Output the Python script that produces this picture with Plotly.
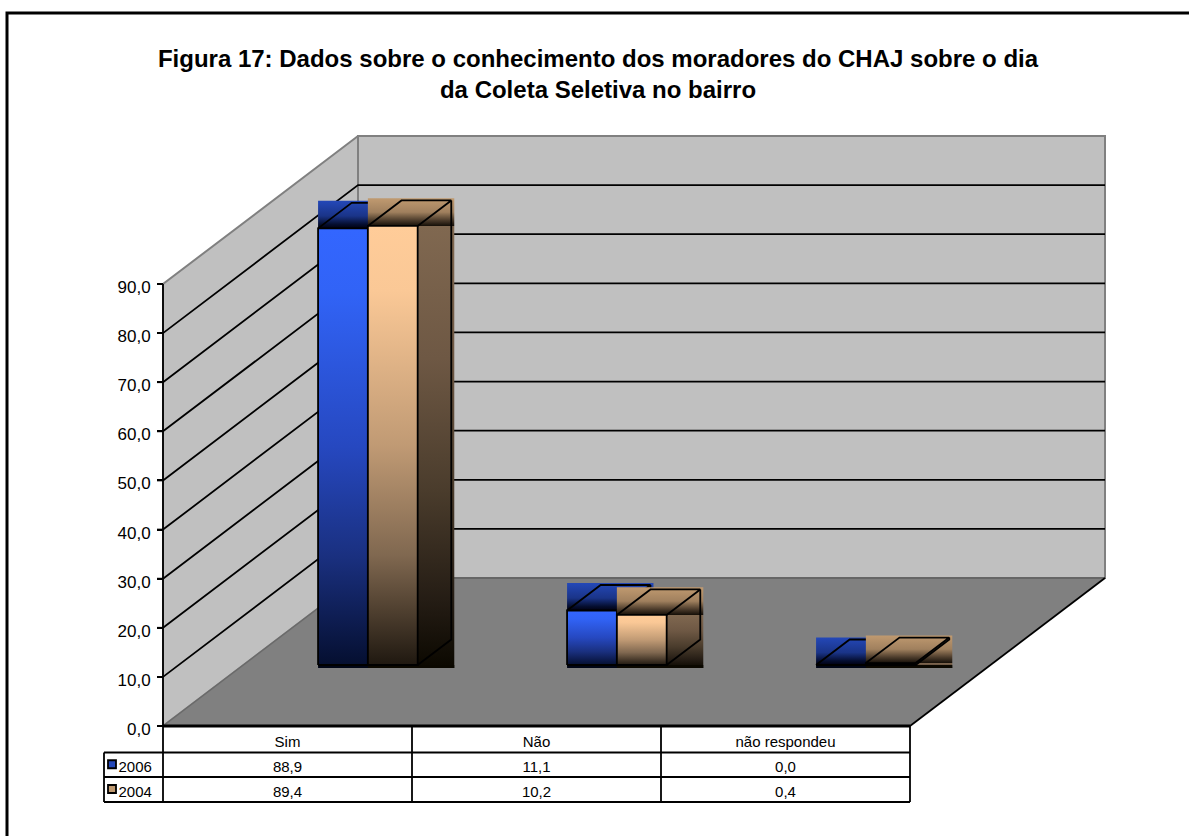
import plotly.graph_objects as go

# ---------- data ----------
categories = ["Sim", "Não", "não respondeu"]
series_names = ["2006", "2004"]
values_2006 = [88.9, 11.1, 0.0]
values_2004 = [89.4, 10.2, 0.4]
y_ticks = [0, 10, 20, 30, 40, 50, 60, 70, 80, 90]
title_text = ("<b>Figura 17: Dados sobre o conhecimento dos moradores do CHAJ sobre o dia"
              "<br>da Coleta Seletiva no bairro</b>")

# ---------- oblique projection set-up ----------
W, H = 1189, 836
PX_X0, PX_Y0 = 163, 726      # pixel of category 0 / value 0 on the front plane
PX_PER_CAT = 249.0
PX_PER_VAL = 442.0 / 90.0
DEPTH_PX_X, DEPTH_PX_Y = 195.0, 148.0
DX = DEPTH_PX_X / PX_PER_CAT
DY = DEPTH_PX_Y / PX_PER_VAL
NC = len(categories)
VMAX = y_ticks[-1]
LW = 1.8

def P(c, v, d=0.0):
    """category, value, depth -> axis coordinates"""
    return c + DX * d, v + DY * d

def xpx(p):
    return (p - PX_X0) / PX_PER_CAT

def ypx(p):
    return (PX_Y0 - p) / PX_PER_VAL

fig = go.Figure()

def poly(points, fill=None, line=None, lw=LW, grad=None):
    pts = list(points)
    closed = fill is not None or grad is not None
    xs = [p[0] for p in pts] + ([pts[0][0]] if closed else [])
    ys = [p[1] for p in pts] + ([pts[0][1]] if closed else [])
    kw = dict(x=xs, y=ys, mode="lines", hoverinfo="skip", showlegend=False,
              line=dict(color=line or "rgba(0,0,0,0)", width=lw if line else 0))
    if fill:
        kw.update(fill="toself", fillcolor=fill)
    if grad:
        stops, y_top, y_bottom = grad
        kw.update(fill="toself", fillgradient=dict(
            type="vertical", start=y_bottom, stop=y_top,
            colorscale=[[1 - f, c] for f, c in reversed(stops)]))
    fig.add_trace(go.Scatter(**kw))

# ---------- walls and floor ----------
WALL = "#c0c0c0"
FLOOR = "#808080"
EDGE = "#808080"
poly([P(0, 0), P(0, 0, 1), P(0, VMAX, 1), P(0, VMAX)], fill=WALL, line=EDGE, lw=2)
poly([P(0, 0, 1), P(NC, 0, 1), P(NC, VMAX, 1), P(0, VMAX, 1)], fill=WALL, line=EDGE, lw=2)
poly([P(0, 0), P(0, 0, 1), P(NC, 0, 1), P(NC, 0)], fill=FLOOR, line=None)
poly([P(0, 0), P(0, 0, 1)], line="#6a6a6a", lw=1.5)
poly([P(0, 0, 1), P(NC, 0, 1)], line="#666666", lw=2)
poly([P(NC, 0), P(NC, 0, 1)], line="#000000", lw=LW)
for t in y_ticks[1:-1]:
    poly([P(0, t), P(0, t, 1), P(NC, t, 1)], line="#000000", lw=LW)

# ---------- bars ----------
D0 = 61.0 / DEPTH_PX_Y
D1 = 86.5 / DEPTH_PX_Y
BAR_START = 0.30
BAR_W = 0.20
OVER_X = xpx(PX_X0 + 3)      # gradient boxes overhang the outline
OVER_Y = 3 / PX_PER_VAL

STYLE = {
    "2006": dict(
        front=[(0, "#3366ff"), (0.15, "#3163f6"), (0.5, "#2648c0"), (0.75, "#1a3080"), (1, "#050f30")],
        side=[(0, "#2448b8"), (0.5, "#122468"), (1, "#000515")],
        top=[(0, "#2448b8"), (0.55, "#1a3488"), (0.85, "#050e30"), (1, "#000010")],
    ),
    "2004": dict(
        front=[(0, "#ffcc99"), (0.15, "#fac896"), (0.5, "#c09a74"), (0.75, "#806850"), (1, "#1f1810")],
        side=[(0, "#806850"), (0.3, "#6e5844"), (0.6, "#4a3c2c"), (0.85, "#241c14"), (1, "#0b0800")],
        top=[(0, "#c09a70"), (0.5, "#a0805e"), (0.8, "#4a3a2a"), (1, "#150f08")],
    ),
}

def bar(cat_i, ser_i, value, style):
    c0 = cat_i + BAR_START + ser_i * BAR_W
    c1 = c0 + BAR_W
    x_fl, y_fl = P(c0, 0, D0)
    x_fr, y_ft = P(c1, value, D0)
    x_bl, y_bt = P(c0, value, D1)
    x_br = P(c1, value, D1)[0] + OVER_X
    y_b3 = y_fl - OVER_Y
    y_bt3 = y_bt + OVER_Y * 0.7
    # gradient boxes
    poly([(x_fr, y_ft), (x_br, y_ft), (x_br, y_b3), (x_fr, y_b3)],
         grad=(style["side"], y_ft, y_b3))
    poly([(x_fl, y_fl), (x_br, y_fl), (x_br, y_b3), (x_fl, y_b3)],
         fill=style["side"][-1][1])
    poly([(x_fl, y_ft), (x_br, y_ft), (x_br, y_bt3), (x_fl, y_bt3)],
         grad=(style["top"], y_bt3, y_ft))
    if value > 0:
        poly([(x_fl, y_fl), (x_fr, y_fl), (x_fr, y_ft), (x_fl, y_ft)],
             grad=(style["front"], y_ft, y_fl))
    # outlines
    poly([P(c0, 0, D0), P(c1, 0, D0), P(c1, value, D0), P(c0, value, D0), P(c0, 0, D0)],
         line="#000000")
    poly([P(c0, value, D0), P(c0, value, D1), P(c1, value, D1), P(c1, value, D0)],
         line="#000000")
    poly([P(c1, value, D1), P(c1, 0, D1), P(c1, 0, D0)], line="#000000")

for i in range(NC):
    bar(i, 0, values_2006[i], STYLE["2006"])
    bar(i, 1, values_2004[i], STYLE["2004"])

# ---------- data table under the plot ----------
ROW_PX = [726, 752.5, 777, 802]
TABLE_LEFT = xpx(104)
poly([(0, ypx(ROW_PX[0])), (NC, ypx(ROW_PX[0]))], line="#000000", lw=3)
for r in ROW_PX[1:]:
    poly([(TABLE_LEFT, ypx(r)), (NC, ypx(r))], line="#000000")
poly([(TABLE_LEFT, ypx(ROW_PX[1])), (TABLE_LEFT, ypx(ROW_PX[3]))], line="#000000")
for c in range(NC + 1):
    poly([(c, ypx(ROW_PX[0])), (c, ypx(ROW_PX[3]))], line="#000000")
poly([(0, 0), (0, VMAX)], line="#000000")
for t in y_ticks:
    poly([(xpx(PX_X0 - 6), t), (0, t)], line="#000000")

TFONT = dict(family="Liberation Sans, Arial, sans-serif", size=15, color="#000000")
row_mid = [ypx((ROW_PX[k] + ROW_PX[k + 1]) / 2 + 3.5) for k in range(3)]
fig.add_trace(go.Scatter(
    x=[c + 0.5 for c in range(NC)], y=[row_mid[0]] * NC, text=categories,
    mode="text", textfont=TFONT, textposition="middle center",
    hoverinfo="skip", showlegend=False))
for k, vals in enumerate([values_2006, values_2004]):
    fig.add_trace(go.Scatter(
        x=[c + 0.5 for c in range(NC)], y=[row_mid[k + 1]] * NC,
        text=[f"{v:.1f}".replace(".", ",") for v in vals],
        mode="text", textfont=TFONT, textposition="middle center",
        name=series_names[k], hoverinfo="skip", showlegend=False))
    style = STYLE[series_names[k]]
    fig.add_trace(go.Scatter(
        x=[xpx(112)], y=[ypx((ROW_PX[k + 1] + ROW_PX[k + 2]) / 2 - 0.5)],
        mode="markers", hoverinfo="skip", showlegend=False,
        marker=dict(symbol="square", size=8, color=style["top"][0][1],
                    line=dict(color="#000000", width=1.8))))
    fig.add_trace(go.Scatter(
        x=[xpx(118.5)], y=[row_mid[k + 1]], text=[series_names[k]],
        mode="text", textfont=TFONT, textposition="middle right",
        hoverinfo="skip", showlegend=False))

# ---------- layout ----------
fig.update_layout(
    width=W, height=H, autosize=False,
    margin=dict(l=0, r=0, t=0, b=0),
    paper_bgcolor="#ffffff", plot_bgcolor="#ffffff",
    separators=",.",
    showlegend=False,
    font=dict(family="Liberation Sans, Arial, sans-serif", color="#000000"),
    title=dict(text=title_text, x=598 / W, xanchor="center", y=1 - 67 / H, yanchor="middle",
               font=dict(family="Liberation Sans, Arial, sans-serif", size=24, color="#000000")),
    xaxis=dict(visible=False, range=[xpx(0), xpx(W)], domain=[0, 1], fixedrange=True),
    yaxis=dict(range=[ypx(H), ypx(0)], domain=[0, 1], anchor="free", position=PX_X0 / W,
               tickmode="array", tickvals=y_ticks, tickformat=".1f",
               ticks="outside", ticklen=6, tickwidth=LW, tickcolor="#000000",
               ticklabelstandoff=3, ticklabelshift=3,
               tickfont=dict(size=17, color="#000000"),
               showgrid=False, zeroline=False, showline=False, fixedrange=True),
    shapes=[dict(type="rect", xref="paper", yref="paper",
                 x0=7 / W, x1=1.02, y0=1 - 13 / H, y1=-0.02,
                 line=dict(color="#000000", width=3), fillcolor="rgba(0,0,0,0)",
                 layer="above")],
)

fig.write_html("out.html", config={"displayModeBar": False},
               post_script="document.body.style.margin='0';document.body.style.overflow='hidden';")
